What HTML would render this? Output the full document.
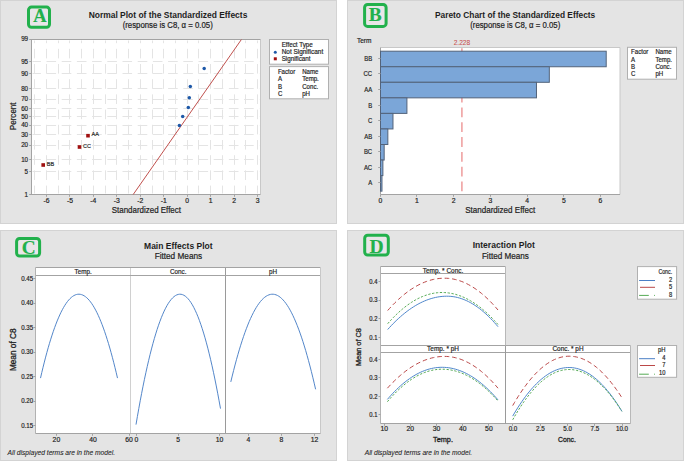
<!DOCTYPE html>
<html><head><meta charset="utf-8"><style>
html,body{margin:0;padding:0;background:#fff;}
body{width:685px;height:461px;overflow:hidden;}
svg{display:block;font-family:"Liberation Sans", sans-serif;}
</style></head><body>
<svg width="685" height="461" viewBox="0 0 685 461">
<rect x="0" y="0" width="685" height="461" fill="#ffffff"/>
<rect x="0.50" y="0.50" width="336.00" height="223.00" fill="#e4e4e4" stroke="#d3d3d3" stroke-width="1"/>
<rect x="347.50" y="0.50" width="336.00" height="223.00" fill="#e4e4e4" stroke="#d3d3d3" stroke-width="1"/>
<rect x="0.50" y="230.50" width="336.00" height="230.00" fill="#e4e4e4" stroke="#d3d3d3" stroke-width="1"/>
<rect x="347.50" y="230.50" width="336.00" height="230.00" fill="#e4e4e4" stroke="#d3d3d3" stroke-width="1"/>
<rect x="31.50" y="39.50" width="229.00" height="155.00" fill="#ffffff" stroke="none" stroke-width="1"/>
<line x1="34.50" y1="193.50" x2="34.50" y2="40.50" stroke="#e4e4e4" stroke-width="1" stroke-dasharray="9.6 5.6" stroke-dashoffset="1.7"/>
<line x1="46.50" y1="193.50" x2="46.50" y2="40.50" stroke="#e4e4e4" stroke-width="1" stroke-dasharray="9.6 5.6" stroke-dashoffset="1.7"/>
<line x1="58.50" y1="193.50" x2="58.50" y2="40.50" stroke="#e4e4e4" stroke-width="1" stroke-dasharray="9.6 5.6" stroke-dashoffset="1.7"/>
<line x1="69.50" y1="193.50" x2="69.50" y2="40.50" stroke="#e4e4e4" stroke-width="1" stroke-dasharray="9.6 5.6" stroke-dashoffset="1.7"/>
<line x1="81.50" y1="193.50" x2="81.50" y2="40.50" stroke="#e4e4e4" stroke-width="1" stroke-dasharray="9.6 5.6" stroke-dashoffset="1.7"/>
<line x1="93.50" y1="193.50" x2="93.50" y2="40.50" stroke="#e4e4e4" stroke-width="1" stroke-dasharray="9.6 5.6" stroke-dashoffset="1.7"/>
<line x1="105.50" y1="193.50" x2="105.50" y2="40.50" stroke="#e4e4e4" stroke-width="1" stroke-dasharray="9.6 5.6" stroke-dashoffset="1.7"/>
<line x1="116.50" y1="193.50" x2="116.50" y2="40.50" stroke="#e4e4e4" stroke-width="1" stroke-dasharray="9.6 5.6" stroke-dashoffset="1.7"/>
<line x1="128.50" y1="193.50" x2="128.50" y2="40.50" stroke="#e4e4e4" stroke-width="1" stroke-dasharray="9.6 5.6" stroke-dashoffset="1.7"/>
<line x1="140.50" y1="193.50" x2="140.50" y2="40.50" stroke="#e4e4e4" stroke-width="1" stroke-dasharray="9.6 5.6" stroke-dashoffset="1.7"/>
<line x1="152.50" y1="193.50" x2="152.50" y2="40.50" stroke="#e4e4e4" stroke-width="1" stroke-dasharray="9.6 5.6" stroke-dashoffset="1.7"/>
<line x1="163.50" y1="193.50" x2="163.50" y2="40.50" stroke="#e4e4e4" stroke-width="1" stroke-dasharray="9.6 5.6" stroke-dashoffset="1.7"/>
<line x1="175.50" y1="193.50" x2="175.50" y2="40.50" stroke="#e4e4e4" stroke-width="1" stroke-dasharray="9.6 5.6" stroke-dashoffset="1.7"/>
<line x1="187.50" y1="193.50" x2="187.50" y2="40.50" stroke="#e4e4e4" stroke-width="1" stroke-dasharray="9.6 5.6" stroke-dashoffset="1.7"/>
<line x1="198.50" y1="193.50" x2="198.50" y2="40.50" stroke="#e4e4e4" stroke-width="1" stroke-dasharray="9.6 5.6" stroke-dashoffset="1.7"/>
<line x1="210.50" y1="193.50" x2="210.50" y2="40.50" stroke="#e4e4e4" stroke-width="1" stroke-dasharray="9.6 5.6" stroke-dashoffset="1.7"/>
<line x1="222.50" y1="193.50" x2="222.50" y2="40.50" stroke="#e4e4e4" stroke-width="1" stroke-dasharray="9.6 5.6" stroke-dashoffset="1.7"/>
<line x1="234.50" y1="193.50" x2="234.50" y2="40.50" stroke="#e4e4e4" stroke-width="1" stroke-dasharray="9.6 5.6" stroke-dashoffset="1.7"/>
<line x1="245.50" y1="193.50" x2="245.50" y2="40.50" stroke="#e4e4e4" stroke-width="1" stroke-dasharray="9.6 5.6" stroke-dashoffset="1.7"/>
<line x1="257.50" y1="193.50" x2="257.50" y2="40.50" stroke="#e4e4e4" stroke-width="1" stroke-dasharray="9.6 5.6" stroke-dashoffset="1.7"/>
<line x1="32.50" y1="61.50" x2="259.50" y2="61.50" stroke="#e4e4e4" stroke-width="1" stroke-dasharray="9.6 5.6" stroke-dashoffset="1.2"/>
<line x1="32.50" y1="73.50" x2="259.50" y2="73.50" stroke="#e4e4e4" stroke-width="1" stroke-dasharray="9.6 5.6" stroke-dashoffset="1.2"/>
<line x1="32.50" y1="88.50" x2="259.50" y2="88.50" stroke="#e4e4e4" stroke-width="1" stroke-dasharray="9.6 5.6" stroke-dashoffset="1.2"/>
<line x1="32.50" y1="99.50" x2="259.50" y2="99.50" stroke="#e4e4e4" stroke-width="1" stroke-dasharray="9.6 5.6" stroke-dashoffset="1.2"/>
<line x1="32.50" y1="108.50" x2="259.50" y2="108.50" stroke="#e4e4e4" stroke-width="1" stroke-dasharray="9.6 5.6" stroke-dashoffset="1.2"/>
<line x1="32.50" y1="116.50" x2="259.50" y2="116.50" stroke="#e4e4e4" stroke-width="1" stroke-dasharray="9.6 5.6" stroke-dashoffset="1.2"/>
<line x1="32.50" y1="125.50" x2="259.50" y2="125.50" stroke="#e4e4e4" stroke-width="1" stroke-dasharray="9.6 5.6" stroke-dashoffset="1.2"/>
<line x1="32.50" y1="134.50" x2="259.50" y2="134.50" stroke="#e4e4e4" stroke-width="1" stroke-dasharray="9.6 5.6" stroke-dashoffset="1.2"/>
<line x1="32.50" y1="145.50" x2="259.50" y2="145.50" stroke="#e4e4e4" stroke-width="1" stroke-dasharray="9.6 5.6" stroke-dashoffset="1.2"/>
<line x1="32.50" y1="159.50" x2="259.50" y2="159.50" stroke="#e4e4e4" stroke-width="1" stroke-dasharray="9.6 5.6" stroke-dashoffset="1.2"/>
<line x1="32.50" y1="171.50" x2="259.50" y2="171.50" stroke="#e4e4e4" stroke-width="1" stroke-dasharray="9.6 5.6" stroke-dashoffset="1.2"/>
<line x1="260.50" y1="39.50" x2="260.50" y2="194.50" stroke="#c8c8c8" stroke-width="1"/>
<line x1="31.50" y1="39.50" x2="260.50" y2="39.50" stroke="#a3a3a3" stroke-width="1"/>
<line x1="31.50" y1="39.00" x2="31.50" y2="195.00" stroke="#a3a3a3" stroke-width="1"/>
<line x1="31.50" y1="194.50" x2="260.50" y2="194.50" stroke="#a3a3a3" stroke-width="1"/>
<line x1="46.50" y1="194.50" x2="46.50" y2="196.80" stroke="#a3a3a3" stroke-width="1"/>
<text x="46.44" y="203.00" font-size="6.8" text-anchor="middle" fill="#1e1e1e" stroke="#1e1e1e" stroke-width="0.18">-6</text>
<line x1="69.50" y1="194.50" x2="69.50" y2="196.80" stroke="#a3a3a3" stroke-width="1"/>
<text x="69.90" y="203.00" font-size="6.8" text-anchor="middle" fill="#1e1e1e" stroke="#1e1e1e" stroke-width="0.18">-5</text>
<line x1="93.50" y1="194.50" x2="93.50" y2="196.80" stroke="#a3a3a3" stroke-width="1"/>
<text x="93.36" y="203.00" font-size="6.8" text-anchor="middle" fill="#1e1e1e" stroke="#1e1e1e" stroke-width="0.18">-4</text>
<line x1="116.50" y1="194.50" x2="116.50" y2="196.80" stroke="#a3a3a3" stroke-width="1"/>
<text x="116.82" y="203.00" font-size="6.8" text-anchor="middle" fill="#1e1e1e" stroke="#1e1e1e" stroke-width="0.18">-3</text>
<line x1="140.50" y1="194.50" x2="140.50" y2="196.80" stroke="#a3a3a3" stroke-width="1"/>
<text x="140.28" y="203.00" font-size="6.8" text-anchor="middle" fill="#1e1e1e" stroke="#1e1e1e" stroke-width="0.18">-2</text>
<line x1="163.50" y1="194.50" x2="163.50" y2="196.80" stroke="#a3a3a3" stroke-width="1"/>
<text x="163.74" y="203.00" font-size="6.8" text-anchor="middle" fill="#1e1e1e" stroke="#1e1e1e" stroke-width="0.18">-1</text>
<line x1="187.50" y1="194.50" x2="187.50" y2="196.80" stroke="#a3a3a3" stroke-width="1"/>
<text x="187.20" y="203.00" font-size="6.8" text-anchor="middle" fill="#1e1e1e" stroke="#1e1e1e" stroke-width="0.18">0</text>
<line x1="210.50" y1="194.50" x2="210.50" y2="196.80" stroke="#a3a3a3" stroke-width="1"/>
<text x="210.66" y="203.00" font-size="6.8" text-anchor="middle" fill="#1e1e1e" stroke="#1e1e1e" stroke-width="0.18">1</text>
<line x1="234.50" y1="194.50" x2="234.50" y2="196.80" stroke="#a3a3a3" stroke-width="1"/>
<text x="234.12" y="203.00" font-size="6.8" text-anchor="middle" fill="#1e1e1e" stroke="#1e1e1e" stroke-width="0.18">2</text>
<line x1="257.50" y1="194.50" x2="257.50" y2="196.80" stroke="#a3a3a3" stroke-width="1"/>
<text x="257.58" y="203.00" font-size="6.8" text-anchor="middle" fill="#1e1e1e" stroke="#1e1e1e" stroke-width="0.18">3</text>
<line x1="29.20" y1="39.50" x2="31.50" y2="39.50" stroke="#a3a3a3" stroke-width="1"/>
<text x="28.10" y="41.47" font-size="6.6" text-anchor="end" textLength="6.97" lengthAdjust="spacingAndGlyphs" fill="#1e1e1e" stroke="#1e1e1e" stroke-width="0.18">99</text>
<line x1="29.20" y1="61.50" x2="31.50" y2="61.50" stroke="#a3a3a3" stroke-width="1"/>
<text x="28.10" y="63.90" font-size="6.6" text-anchor="end" textLength="6.97" lengthAdjust="spacingAndGlyphs" fill="#1e1e1e" stroke="#1e1e1e" stroke-width="0.18">95</text>
<line x1="29.20" y1="73.50" x2="31.50" y2="73.50" stroke="#a3a3a3" stroke-width="1"/>
<text x="28.10" y="76.07" font-size="6.6" text-anchor="end" textLength="6.97" lengthAdjust="spacingAndGlyphs" fill="#1e1e1e" stroke="#1e1e1e" stroke-width="0.18">90</text>
<line x1="29.20" y1="88.50" x2="31.50" y2="88.50" stroke="#a3a3a3" stroke-width="1"/>
<text x="28.10" y="90.81" font-size="6.6" text-anchor="end" textLength="6.97" lengthAdjust="spacingAndGlyphs" fill="#1e1e1e" stroke="#1e1e1e" stroke-width="0.18">80</text>
<line x1="29.20" y1="99.50" x2="31.50" y2="99.50" stroke="#a3a3a3" stroke-width="1"/>
<text x="28.10" y="101.43" font-size="6.6" text-anchor="end" textLength="6.97" lengthAdjust="spacingAndGlyphs" fill="#1e1e1e" stroke="#1e1e1e" stroke-width="0.18">70</text>
<line x1="29.20" y1="108.50" x2="31.50" y2="108.50" stroke="#a3a3a3" stroke-width="1"/>
<text x="28.10" y="110.51" font-size="6.6" text-anchor="end" textLength="6.97" lengthAdjust="spacingAndGlyphs" fill="#1e1e1e" stroke="#1e1e1e" stroke-width="0.18">60</text>
<line x1="29.20" y1="116.50" x2="31.50" y2="116.50" stroke="#a3a3a3" stroke-width="1"/>
<text x="28.10" y="119.00" font-size="6.6" text-anchor="end" textLength="6.97" lengthAdjust="spacingAndGlyphs" fill="#1e1e1e" stroke="#1e1e1e" stroke-width="0.18">50</text>
<line x1="29.20" y1="125.50" x2="31.50" y2="125.50" stroke="#a3a3a3" stroke-width="1"/>
<text x="28.10" y="127.49" font-size="6.6" text-anchor="end" textLength="6.97" lengthAdjust="spacingAndGlyphs" fill="#1e1e1e" stroke="#1e1e1e" stroke-width="0.18">40</text>
<line x1="29.20" y1="134.50" x2="31.50" y2="134.50" stroke="#a3a3a3" stroke-width="1"/>
<text x="28.10" y="136.57" font-size="6.6" text-anchor="end" textLength="6.97" lengthAdjust="spacingAndGlyphs" fill="#1e1e1e" stroke="#1e1e1e" stroke-width="0.18">30</text>
<line x1="29.20" y1="145.50" x2="31.50" y2="145.50" stroke="#a3a3a3" stroke-width="1"/>
<text x="28.10" y="147.19" font-size="6.6" text-anchor="end" textLength="6.97" lengthAdjust="spacingAndGlyphs" fill="#1e1e1e" stroke="#1e1e1e" stroke-width="0.18">20</text>
<line x1="29.20" y1="159.50" x2="31.50" y2="159.50" stroke="#a3a3a3" stroke-width="1"/>
<text x="28.10" y="161.93" font-size="6.6" text-anchor="end" textLength="6.97" lengthAdjust="spacingAndGlyphs" fill="#1e1e1e" stroke="#1e1e1e" stroke-width="0.18">10</text>
<line x1="29.20" y1="171.50" x2="31.50" y2="171.50" stroke="#a3a3a3" stroke-width="1"/>
<text x="28.10" y="174.10" font-size="6.6" text-anchor="end" textLength="3.49" lengthAdjust="spacingAndGlyphs" fill="#1e1e1e" stroke="#1e1e1e" stroke-width="0.18">5</text>
<line x1="29.20" y1="194.50" x2="31.50" y2="194.50" stroke="#a3a3a3" stroke-width="1"/>
<text x="28.10" y="196.93" font-size="6.6" text-anchor="end" textLength="3.49" lengthAdjust="spacingAndGlyphs" fill="#1e1e1e" stroke="#1e1e1e" stroke-width="0.18">1</text>
<line x1="133.20" y1="194.50" x2="241.40" y2="39.50" stroke="#c0504d" stroke-width="1"/>
<circle cx="204.2" cy="68.4" r="1.75" fill="#1d58a8"/>
<circle cx="190.3" cy="86.4" r="1.75" fill="#1d58a8"/>
<circle cx="189.3" cy="97.7" r="1.75" fill="#1d58a8"/>
<circle cx="188.3" cy="107.5" r="1.75" fill="#1d58a8"/>
<circle cx="182.7" cy="116.4" r="1.75" fill="#1d58a8"/>
<circle cx="179.4" cy="125.6" r="1.75" fill="#1d58a8"/>
<rect x="41.40" y="163.20" width="3.60" height="3.60" fill="#a01010" stroke="none" stroke-width="1"/>
<text x="46.80" y="165.70" font-size="6.0" textLength="7.36" lengthAdjust="spacingAndGlyphs" fill="#1e1e1e" stroke="#1e1e1e" stroke-width="0.18">BB</text>
<rect x="77.70" y="145.20" width="3.60" height="3.60" fill="#a01010" stroke="none" stroke-width="1"/>
<text x="83.10" y="147.70" font-size="6.0" textLength="7.97" lengthAdjust="spacingAndGlyphs" fill="#1e1e1e" stroke="#1e1e1e" stroke-width="0.18">CC</text>
<rect x="86.20" y="133.90" width="3.60" height="3.60" fill="#a01010" stroke="none" stroke-width="1"/>
<text x="91.60" y="136.40" font-size="6.0" textLength="7.36" lengthAdjust="spacingAndGlyphs" fill="#1e1e1e" stroke="#1e1e1e" stroke-width="0.18">AA</text>
<text x="168.00" y="18.20" font-size="8.2" text-anchor="middle" font-weight="bold" textLength="158.7" lengthAdjust="spacingAndGlyphs" fill="#1e1e1e">Normal Plot of the Standardized Effects</text>
<text x="167.70" y="28.30" font-size="8.3" text-anchor="middle" textLength="90.1" lengthAdjust="spacingAndGlyphs" fill="#1e1e1e" stroke="#1e1e1e" stroke-width="0.2">(response is C8, α = 0.05)</text>
<text x="146.35" y="212.80" font-size="8.2" text-anchor="middle" textLength="69.3" lengthAdjust="spacingAndGlyphs" fill="#1e1e1e" stroke="#1e1e1e" stroke-width="0.2">Standardized Effect</text>
<text transform="translate(15.90,116.30) rotate(-90)" x="0" y="0" font-size="8.2" text-anchor="middle" textLength="27.7" lengthAdjust="spacingAndGlyphs" fill="#1e1e1e" stroke="#1e1e1e" stroke-width="0.22">Percent</text>
<rect x="269.50" y="39.50" width="59.00" height="24.70" fill="#ffffff" stroke="#b0b0b0" stroke-width="1"/>
<text x="281.70" y="46.70" font-size="6.3" textLength="31.1" lengthAdjust="spacingAndGlyphs" fill="#1e1e1e" stroke="#1e1e1e" stroke-width="0.18">Effect Type</text>
<text x="281.70" y="54.00" font-size="6.3" textLength="41.5" lengthAdjust="spacingAndGlyphs" fill="#1e1e1e" stroke="#1e1e1e" stroke-width="0.18">Not Significant</text>
<text x="281.70" y="60.80" font-size="6.3" textLength="28.8" lengthAdjust="spacingAndGlyphs" fill="#1e1e1e" stroke="#1e1e1e" stroke-width="0.18">Significant</text>
<circle cx="275.3" cy="52.2" r="1.5" fill="#1d58a8"/>
<rect x="273.80" y="57.30" width="3.00" height="3.00" fill="#a01010" stroke="none" stroke-width="1"/>
<rect x="269.50" y="66.60" width="59.00" height="32.20" fill="#ffffff" stroke="#b0b0b0" stroke-width="1"/>
<text x="277.90" y="73.60" font-size="6.3" textLength="17.32" lengthAdjust="spacingAndGlyphs" fill="#1e1e1e" stroke="#1e1e1e" stroke-width="0.18">Factor</text>
<text x="302.20" y="73.60" font-size="6.3" textLength="16.3" lengthAdjust="spacingAndGlyphs" fill="#1e1e1e" stroke="#1e1e1e" stroke-width="0.18">Name</text>
<text x="277.90" y="81.20" font-size="6.3" textLength="4.08" lengthAdjust="spacingAndGlyphs" fill="#1e1e1e" stroke="#1e1e1e" stroke-width="0.18">A</text>
<text x="302.20" y="81.20" font-size="6.3" textLength="16.64" lengthAdjust="spacingAndGlyphs" fill="#1e1e1e" stroke="#1e1e1e" stroke-width="0.18">Temp.</text>
<text x="277.90" y="88.80" font-size="6.3" textLength="4.08" lengthAdjust="spacingAndGlyphs" fill="#1e1e1e" stroke="#1e1e1e" stroke-width="0.18">B</text>
<text x="302.20" y="88.80" font-size="6.3" textLength="15.96" lengthAdjust="spacingAndGlyphs" fill="#1e1e1e" stroke="#1e1e1e" stroke-width="0.18">Conc.</text>
<text x="277.90" y="95.70" font-size="6.3" textLength="4.41" lengthAdjust="spacingAndGlyphs" fill="#1e1e1e" stroke="#1e1e1e" stroke-width="0.18">C</text>
<text x="302.20" y="95.70" font-size="6.3" textLength="7.81" lengthAdjust="spacingAndGlyphs" fill="#1e1e1e" stroke="#1e1e1e" stroke-width="0.18">pH</text>
<rect x="28.50" y="7.10" width="21.00" height="20.10" rx="3" ry="3" fill="#e8e6e8" stroke="#22b14c" stroke-width="3"/>
<text x="39.90" y="21.90" font-family="Liberation Serif, serif" font-weight="bold" font-size="18.4" text-anchor="middle" fill="#22b14c" stroke="#22b14c" stroke-width="0.15">A</text>
<rect x="380.50" y="47.50" width="239.50" height="147.00" fill="#ffffff" stroke="none" stroke-width="1"/>
<line x1="620.00" y1="47.50" x2="620.00" y2="194.50" stroke="#c8c8c8" stroke-width="1"/>
<line x1="380.50" y1="47.50" x2="620.00" y2="47.50" stroke="#c8c8c8" stroke-width="1"/>
<line x1="380.50" y1="47.50" x2="380.50" y2="194.50" stroke="#a3a3a3" stroke-width="1"/>
<line x1="461.90" y1="47.50" x2="461.90" y2="194.50" stroke="#ee9c9c" stroke-width="1.5" stroke-dasharray="9.8 5" stroke-dashoffset="-0.8"/>
<rect x="380.50" y="51.20" width="225.71" height="15.55" fill="#7ba6d8" stroke="#53637a" stroke-width="1"/>
<line x1="378.20" y1="58.50" x2="380.50" y2="58.50" stroke="#a3a3a3" stroke-width="1"/>
<text x="372.20" y="60.88" font-size="6.8" text-anchor="end" textLength="7.98" lengthAdjust="spacingAndGlyphs" fill="#1e1e1e" stroke="#1e1e1e" stroke-width="0.18">BB</text>
<rect x="380.50" y="66.75" width="168.82" height="15.55" fill="#7ba6d8" stroke="#53637a" stroke-width="1"/>
<line x1="378.20" y1="73.50" x2="380.50" y2="73.50" stroke="#a3a3a3" stroke-width="1"/>
<text x="372.20" y="76.43" font-size="6.8" text-anchor="end" textLength="8.64" lengthAdjust="spacingAndGlyphs" fill="#1e1e1e" stroke="#1e1e1e" stroke-width="0.18">CC</text>
<rect x="380.50" y="82.30" width="155.98" height="15.55" fill="#7ba6d8" stroke="#53637a" stroke-width="1"/>
<line x1="378.20" y1="89.50" x2="380.50" y2="89.50" stroke="#a3a3a3" stroke-width="1"/>
<text x="372.20" y="91.98" font-size="6.8" text-anchor="end" textLength="7.98" lengthAdjust="spacingAndGlyphs" fill="#1e1e1e" stroke="#1e1e1e" stroke-width="0.18">AA</text>
<rect x="380.50" y="97.85" width="26.42" height="15.55" fill="#7ba6d8" stroke="#53637a" stroke-width="1"/>
<line x1="378.20" y1="105.50" x2="380.50" y2="105.50" stroke="#a3a3a3" stroke-width="1"/>
<text x="372.20" y="107.53" font-size="6.8" text-anchor="end" textLength="3.99" lengthAdjust="spacingAndGlyphs" fill="#1e1e1e" stroke="#1e1e1e" stroke-width="0.18">B</text>
<rect x="380.50" y="113.40" width="12.48" height="15.55" fill="#7ba6d8" stroke="#53637a" stroke-width="1"/>
<line x1="378.20" y1="120.50" x2="380.50" y2="120.50" stroke="#a3a3a3" stroke-width="1"/>
<text x="372.20" y="123.08" font-size="6.8" text-anchor="end" textLength="4.32" lengthAdjust="spacingAndGlyphs" fill="#1e1e1e" stroke="#1e1e1e" stroke-width="0.18">C</text>
<rect x="380.50" y="128.95" width="7.34" height="15.55" fill="#7ba6d8" stroke="#53637a" stroke-width="1"/>
<line x1="378.20" y1="136.50" x2="380.50" y2="136.50" stroke="#a3a3a3" stroke-width="1"/>
<text x="372.20" y="138.62" font-size="6.8" text-anchor="end" textLength="7.98" lengthAdjust="spacingAndGlyphs" fill="#1e1e1e" stroke="#1e1e1e" stroke-width="0.18">AB</text>
<rect x="380.50" y="144.50" width="3.67" height="15.55" fill="#7ba6d8" stroke="#53637a" stroke-width="1"/>
<line x1="378.20" y1="151.50" x2="380.50" y2="151.50" stroke="#a3a3a3" stroke-width="1"/>
<text x="372.20" y="154.18" font-size="6.8" text-anchor="end" textLength="8.31" lengthAdjust="spacingAndGlyphs" fill="#1e1e1e" stroke="#1e1e1e" stroke-width="0.18">BC</text>
<rect x="380.50" y="160.05" width="2.39" height="15.55" fill="#7ba6d8" stroke="#53637a" stroke-width="1"/>
<line x1="378.20" y1="167.50" x2="380.50" y2="167.50" stroke="#a3a3a3" stroke-width="1"/>
<text x="372.20" y="169.73" font-size="6.8" text-anchor="end" textLength="8.31" lengthAdjust="spacingAndGlyphs" fill="#1e1e1e" stroke="#1e1e1e" stroke-width="0.18">AC</text>
<rect x="380.50" y="175.60" width="1.47" height="15.55" fill="#7ba6d8" stroke="#53637a" stroke-width="1"/>
<line x1="378.20" y1="182.50" x2="380.50" y2="182.50" stroke="#a3a3a3" stroke-width="1"/>
<text x="372.20" y="185.28" font-size="6.8" text-anchor="end" textLength="3.99" lengthAdjust="spacingAndGlyphs" fill="#1e1e1e" stroke="#1e1e1e" stroke-width="0.18">A</text>
<line x1="380.50" y1="194.50" x2="620.00" y2="194.50" stroke="#a3a3a3" stroke-width="1"/>
<line x1="380.50" y1="194.50" x2="380.50" y2="196.80" stroke="#a3a3a3" stroke-width="1"/>
<text x="380.30" y="203.00" font-size="6.8" text-anchor="middle" fill="#1e1e1e" stroke="#1e1e1e" stroke-width="0.18">0</text>
<line x1="416.50" y1="194.50" x2="416.50" y2="196.80" stroke="#a3a3a3" stroke-width="1"/>
<text x="417.00" y="203.00" font-size="6.8" text-anchor="middle" fill="#1e1e1e" stroke="#1e1e1e" stroke-width="0.18">1</text>
<line x1="453.50" y1="194.50" x2="453.50" y2="196.80" stroke="#a3a3a3" stroke-width="1"/>
<text x="453.70" y="203.00" font-size="6.8" text-anchor="middle" fill="#1e1e1e" stroke="#1e1e1e" stroke-width="0.18">2</text>
<line x1="490.50" y1="194.50" x2="490.50" y2="196.80" stroke="#a3a3a3" stroke-width="1"/>
<text x="490.40" y="203.00" font-size="6.8" text-anchor="middle" fill="#1e1e1e" stroke="#1e1e1e" stroke-width="0.18">3</text>
<line x1="527.50" y1="194.50" x2="527.50" y2="196.80" stroke="#a3a3a3" stroke-width="1"/>
<text x="527.10" y="203.00" font-size="6.8" text-anchor="middle" fill="#1e1e1e" stroke="#1e1e1e" stroke-width="0.18">4</text>
<line x1="563.50" y1="194.50" x2="563.50" y2="196.80" stroke="#a3a3a3" stroke-width="1"/>
<text x="563.80" y="203.00" font-size="6.8" text-anchor="middle" fill="#1e1e1e" stroke="#1e1e1e" stroke-width="0.18">5</text>
<line x1="600.50" y1="194.50" x2="600.50" y2="196.80" stroke="#a3a3a3" stroke-width="1"/>
<text x="600.50" y="203.00" font-size="6.8" text-anchor="middle" fill="#1e1e1e" stroke="#1e1e1e" stroke-width="0.18">6</text>
<text x="461.90" y="44.80" font-size="6.5" text-anchor="middle" textLength="16.5" lengthAdjust="spacingAndGlyphs" fill="#c85050" stroke="#c85050" stroke-width="0.05">2.228</text>
<text x="364.20" y="43.00" font-size="6.5" text-anchor="middle" textLength="14.5" lengthAdjust="spacingAndGlyphs" fill="#1e1e1e" stroke="#1e1e1e" stroke-width="0.18">Term</text>
<text x="500.20" y="212.80" font-size="8.2" text-anchor="middle" textLength="70" lengthAdjust="spacingAndGlyphs" fill="#1e1e1e" stroke="#1e1e1e" stroke-width="0.2">Standardized Effect</text>
<text x="515.10" y="18.20" font-size="8.2" text-anchor="middle" font-weight="bold" textLength="160.3" lengthAdjust="spacingAndGlyphs" fill="#1e1e1e">Pareto Chart of the Standardized Effects</text>
<text x="515.25" y="28.30" font-size="8.3" text-anchor="middle" textLength="90.1" lengthAdjust="spacingAndGlyphs" fill="#1e1e1e" stroke="#1e1e1e" stroke-width="0.2">(response is C8, α = 0.05)</text>
<rect x="627.50" y="47.30" width="49.00" height="31.90" fill="#ffffff" stroke="#b0b0b0" stroke-width="1"/>
<text x="631.00" y="53.90" font-size="6.3" textLength="17.32" lengthAdjust="spacingAndGlyphs" fill="#1e1e1e" stroke="#1e1e1e" stroke-width="0.18">Factor</text>
<text x="655.40" y="53.90" font-size="6.3" textLength="16.3" lengthAdjust="spacingAndGlyphs" fill="#1e1e1e" stroke="#1e1e1e" stroke-width="0.18">Name</text>
<text x="631.00" y="61.60" font-size="6.3" textLength="4.08" lengthAdjust="spacingAndGlyphs" fill="#1e1e1e" stroke="#1e1e1e" stroke-width="0.18">A</text>
<text x="655.40" y="61.60" font-size="6.3" textLength="16.64" lengthAdjust="spacingAndGlyphs" fill="#1e1e1e" stroke="#1e1e1e" stroke-width="0.18">Temp.</text>
<text x="631.00" y="68.70" font-size="6.3" textLength="4.08" lengthAdjust="spacingAndGlyphs" fill="#1e1e1e" stroke="#1e1e1e" stroke-width="0.18">B</text>
<text x="655.40" y="68.70" font-size="6.3" textLength="15.96" lengthAdjust="spacingAndGlyphs" fill="#1e1e1e" stroke="#1e1e1e" stroke-width="0.18">Conc.</text>
<text x="631.00" y="75.90" font-size="6.3" textLength="4.41" lengthAdjust="spacingAndGlyphs" fill="#1e1e1e" stroke="#1e1e1e" stroke-width="0.18">C</text>
<text x="655.40" y="75.90" font-size="6.3" textLength="7.81" lengthAdjust="spacingAndGlyphs" fill="#1e1e1e" stroke="#1e1e1e" stroke-width="0.18">pH</text>
<rect x="364.60" y="4.40" width="21.50" height="22.00" rx="3" ry="3" fill="#e8e6e8" stroke="#22b14c" stroke-width="3"/>
<text x="375.30" y="21.40" font-family="Liberation Serif, serif" font-weight="bold" font-size="19.4" text-anchor="middle" fill="#22b14c" stroke="#22b14c" stroke-width="0.15">B</text>
<rect x="35.50" y="267.50" width="285.00" height="166.00" fill="#ffffff" stroke="none" stroke-width="1"/>
<line x1="130.50" y1="267.50" x2="130.50" y2="433.50" stroke="#d0d0d0" stroke-width="1"/>
<line x1="225.50" y1="267.50" x2="225.50" y2="433.50" stroke="#9a9a9a" stroke-width="1"/>
<line x1="35.50" y1="267.50" x2="320.50" y2="267.50" stroke="#a3a3a3" stroke-width="1"/>
<line x1="35.50" y1="275.50" x2="320.50" y2="275.50" stroke="#a3a3a3" stroke-width="1"/>
<line x1="320.50" y1="267.50" x2="320.50" y2="433.50" stroke="#c8c8c8" stroke-width="1"/>
<line x1="35.50" y1="267.50" x2="35.50" y2="433.50" stroke="#b2b2b2" stroke-width="1"/>
<line x1="35.50" y1="433.50" x2="320.50" y2="433.50" stroke="#a3a3a3" stroke-width="1"/>
<text x="83.20" y="273.70" font-size="6.5" text-anchor="middle" textLength="17.17" lengthAdjust="spacingAndGlyphs" fill="#1e1e1e" stroke="#1e1e1e" stroke-width="0.18">Temp.</text>
<text x="178.20" y="273.70" font-size="6.5" text-anchor="middle" textLength="16.47" lengthAdjust="spacingAndGlyphs" fill="#1e1e1e" stroke="#1e1e1e" stroke-width="0.18">Conc.</text>
<text x="273.00" y="273.70" font-size="6.5" text-anchor="middle" textLength="8.06" lengthAdjust="spacingAndGlyphs" fill="#1e1e1e" stroke="#1e1e1e" stroke-width="0.18">pH</text>
<line x1="33.50" y1="278.50" x2="35.50" y2="278.50" stroke="#a3a3a3" stroke-width="1"/>
<text x="33.10" y="280.90" font-size="6.5" text-anchor="end" textLength="11.9" lengthAdjust="spacingAndGlyphs" fill="#1e1e1e" stroke="#1e1e1e" stroke-width="0.18">0.45</text>
<line x1="33.50" y1="303.50" x2="35.50" y2="303.50" stroke="#a3a3a3" stroke-width="1"/>
<text x="33.10" y="305.40" font-size="6.5" text-anchor="end" textLength="11.9" lengthAdjust="spacingAndGlyphs" fill="#1e1e1e" stroke="#1e1e1e" stroke-width="0.18">0.40</text>
<line x1="33.50" y1="327.50" x2="35.50" y2="327.50" stroke="#a3a3a3" stroke-width="1"/>
<text x="33.10" y="329.90" font-size="6.5" text-anchor="end" textLength="11.9" lengthAdjust="spacingAndGlyphs" fill="#1e1e1e" stroke="#1e1e1e" stroke-width="0.18">0.35</text>
<line x1="33.50" y1="352.50" x2="35.50" y2="352.50" stroke="#a3a3a3" stroke-width="1"/>
<text x="33.10" y="354.40" font-size="6.5" text-anchor="end" textLength="11.9" lengthAdjust="spacingAndGlyphs" fill="#1e1e1e" stroke="#1e1e1e" stroke-width="0.18">0.30</text>
<line x1="33.50" y1="376.50" x2="35.50" y2="376.50" stroke="#a3a3a3" stroke-width="1"/>
<text x="33.10" y="378.90" font-size="6.5" text-anchor="end" textLength="11.9" lengthAdjust="spacingAndGlyphs" fill="#1e1e1e" stroke="#1e1e1e" stroke-width="0.18">0.25</text>
<line x1="33.50" y1="401.50" x2="35.50" y2="401.50" stroke="#a3a3a3" stroke-width="1"/>
<text x="33.10" y="403.40" font-size="6.5" text-anchor="end" textLength="11.9" lengthAdjust="spacingAndGlyphs" fill="#1e1e1e" stroke="#1e1e1e" stroke-width="0.18">0.20</text>
<line x1="33.50" y1="425.50" x2="35.50" y2="425.50" stroke="#a3a3a3" stroke-width="1"/>
<text x="33.10" y="427.90" font-size="6.5" text-anchor="end" textLength="11.9" lengthAdjust="spacingAndGlyphs" fill="#1e1e1e" stroke="#1e1e1e" stroke-width="0.18">0.15</text>
<line x1="56.50" y1="433.50" x2="56.50" y2="435.80" stroke="#a3a3a3" stroke-width="1"/>
<text x="56.40" y="441.60" font-size="6.8" text-anchor="middle" fill="#1e1e1e" stroke="#1e1e1e" stroke-width="0.18">20</text>
<line x1="92.50" y1="433.50" x2="92.50" y2="435.80" stroke="#a3a3a3" stroke-width="1"/>
<text x="93.00" y="441.60" font-size="6.8" text-anchor="middle" fill="#1e1e1e" stroke="#1e1e1e" stroke-width="0.18">40</text>
<line x1="129.50" y1="433.50" x2="129.50" y2="435.80" stroke="#a3a3a3" stroke-width="1"/>
<text x="129.10" y="441.60" font-size="6.8" text-anchor="middle" fill="#1e1e1e" stroke="#1e1e1e" stroke-width="0.18">60</text>
<line x1="136.50" y1="433.50" x2="136.50" y2="435.80" stroke="#a3a3a3" stroke-width="1"/>
<text x="136.40" y="441.60" font-size="6.8" text-anchor="middle" fill="#1e1e1e" stroke="#1e1e1e" stroke-width="0.18">0</text>
<line x1="178.50" y1="433.50" x2="178.50" y2="435.80" stroke="#a3a3a3" stroke-width="1"/>
<text x="178.10" y="441.60" font-size="6.8" text-anchor="middle" fill="#1e1e1e" stroke="#1e1e1e" stroke-width="0.18">5</text>
<line x1="219.50" y1="433.50" x2="219.50" y2="435.80" stroke="#a3a3a3" stroke-width="1"/>
<text x="219.50" y="441.60" font-size="6.8" text-anchor="middle" fill="#1e1e1e" stroke="#1e1e1e" stroke-width="0.18">10</text>
<line x1="248.50" y1="433.50" x2="248.50" y2="435.80" stroke="#a3a3a3" stroke-width="1"/>
<text x="248.50" y="441.60" font-size="6.8" text-anchor="middle" fill="#1e1e1e" stroke="#1e1e1e" stroke-width="0.18">4</text>
<line x1="281.50" y1="433.50" x2="281.50" y2="435.80" stroke="#a3a3a3" stroke-width="1"/>
<text x="281.50" y="441.60" font-size="6.8" text-anchor="middle" fill="#1e1e1e" stroke="#1e1e1e" stroke-width="0.18">8</text>
<line x1="314.50" y1="433.50" x2="314.50" y2="435.80" stroke="#a3a3a3" stroke-width="1"/>
<text x="314.60" y="441.60" font-size="6.8" text-anchor="middle" fill="#1e1e1e" stroke="#1e1e1e" stroke-width="0.18">12</text>
<polyline points="40.50,378.10 41.78,372.57 43.07,367.23 44.35,362.08 45.63,357.12 46.92,352.34 48.20,347.76 49.48,343.36 50.77,339.15 52.05,335.13 53.33,331.29 54.62,327.65 55.90,324.19 57.18,320.93 58.47,317.85 59.75,314.96 61.03,312.25 62.32,309.74 63.60,307.41 64.88,305.28 66.17,303.33 67.45,301.57 68.73,300.00 70.02,298.61 71.30,297.42 72.58,296.41 73.87,295.59 75.15,294.96 76.43,294.52 77.72,294.27 79.00,294.20 80.28,294.32 81.57,294.63 82.85,295.12 84.13,295.79 85.42,296.65 86.70,297.70 87.98,298.92 89.27,300.34 90.55,301.93 91.83,303.72 93.12,305.68 94.40,307.83 95.68,310.17 96.97,312.69 98.25,315.39 99.53,318.28 100.82,321.35 102.10,324.61 103.38,328.05 104.67,331.68 105.95,335.49 107.23,339.49 108.52,343.67 109.80,348.03 111.08,352.58 112.37,357.32 113.65,362.24 114.93,367.34 116.22,372.63 117.50,378.10" fill="none" stroke="#4a7fc6" stroke-width="0.95"/>
<polyline points="136.00,424.60 137.41,416.39 138.82,408.44 140.22,400.76 141.63,393.35 143.04,386.20 144.45,379.32 145.86,372.71 147.27,366.37 148.68,360.29 150.08,354.48 151.49,348.94 152.90,343.67 154.31,338.66 155.72,333.92 157.12,329.44 158.53,325.24 159.94,321.30 161.35,317.63 162.76,314.22 164.17,311.09 165.57,308.22 166.98,305.61 168.39,303.28 169.80,301.21 171.21,299.41 172.62,297.87 174.03,296.60 175.43,295.60 176.84,294.87 178.25,294.41 179.66,294.21 181.07,294.28 182.47,294.63 183.88,295.25 185.29,296.15 186.70,297.33 188.11,298.79 189.52,300.52 190.93,302.52 192.33,304.81 193.74,307.37 195.15,310.21 196.56,313.32 197.97,316.71 199.38,320.38 200.78,324.33 202.19,328.55 203.60,333.05 205.01,337.82 206.42,342.87 207.82,348.20 209.23,353.80 210.64,359.68 212.05,365.84 213.46,372.28 214.87,378.99 216.28,385.98 217.68,393.24 219.09,400.78 220.50,408.60" fill="none" stroke="#4a7fc6" stroke-width="0.95"/>
<polyline points="230.80,381.90 232.21,376.06 233.63,370.41 235.04,364.97 236.45,359.73 237.87,354.69 239.28,349.86 240.69,345.22 242.11,340.79 243.52,336.56 244.93,332.53 246.35,328.70 247.76,325.07 249.17,321.64 250.59,318.42 252.00,315.40 253.41,312.57 254.83,309.95 256.24,307.53 257.65,305.32 259.07,303.30 260.48,301.49 261.89,299.87 263.31,298.46 264.72,297.25 266.13,296.24 267.55,295.44 268.96,294.83 270.37,294.43 271.79,294.23 273.20,294.23 274.61,294.43 276.03,294.84 277.44,295.45 278.85,296.27 280.27,297.29 281.68,298.51 283.09,299.95 284.51,301.58 285.92,303.42 287.33,305.46 288.75,307.71 290.16,310.17 291.57,312.82 292.99,315.69 294.40,318.75 295.81,322.02 297.23,325.50 298.64,329.18 300.05,333.07 301.47,337.16 302.88,341.45 304.29,345.95 305.71,350.65 307.12,355.56 308.53,360.67 309.95,365.99 311.36,371.51 312.77,377.23 314.19,383.17 315.60,389.30" fill="none" stroke="#4a7fc6" stroke-width="0.95"/>
<text x="178.30" y="248.90" font-size="8.5" text-anchor="middle" font-weight="bold" textLength="68.5" lengthAdjust="spacingAndGlyphs" fill="#1e1e1e">Main Effects Plot</text>
<text x="178.40" y="258.80" font-size="8.3" text-anchor="middle" textLength="47.5" lengthAdjust="spacingAndGlyphs" fill="#1e1e1e" stroke="#1e1e1e" stroke-width="0.2">Fitted Means</text>
<text transform="translate(15.90,349.80) rotate(-90)" x="0" y="0" font-size="8.2" text-anchor="middle" textLength="42.6" lengthAdjust="spacingAndGlyphs" fill="#1e1e1e" stroke="#1e1e1e" stroke-width="0.3">Mean of C8</text>
<text x="7.50" y="454.70" font-size="6.8" textLength="107.5" lengthAdjust="spacingAndGlyphs" font-style="italic" fill="#1e1e1e" stroke="#1e1e1e" stroke-width="0.08">All displayed terms are in the model.</text>
<rect x="16.60" y="238.40" width="23.00" height="17.60" rx="3" ry="3" fill="#e8e6e8" stroke="#22b14c" stroke-width="3"/>
<text x="28.60" y="253.80" font-family="Liberation Serif, serif" font-weight="bold" font-size="19.3" text-anchor="middle" fill="#22b14c" stroke="#22b14c" stroke-width="0.15">C</text>
<rect x="380.50" y="266.50" width="125.00" height="79.00" fill="#ffffff" stroke="none" stroke-width="1"/>
<line x1="380.50" y1="266.50" x2="505.50" y2="266.50" stroke="#a3a3a3" stroke-width="1"/>
<line x1="380.50" y1="273.50" x2="505.50" y2="273.50" stroke="#a3a3a3" stroke-width="1"/>
<line x1="505.50" y1="266.50" x2="505.50" y2="345.50" stroke="#b8b8b8" stroke-width="1"/>
<rect x="380.50" y="345.50" width="125.00" height="78.00" fill="#ffffff" stroke="none" stroke-width="1"/>
<line x1="380.50" y1="345.50" x2="505.50" y2="345.50" stroke="#a3a3a3" stroke-width="1"/>
<line x1="380.50" y1="352.50" x2="505.50" y2="352.50" stroke="#a3a3a3" stroke-width="1"/>
<line x1="505.50" y1="345.50" x2="505.50" y2="423.50" stroke="#b8b8b8" stroke-width="1"/>
<rect x="505.50" y="345.50" width="125.00" height="78.00" fill="#ffffff" stroke="none" stroke-width="1"/>
<line x1="505.50" y1="345.50" x2="630.50" y2="345.50" stroke="#a3a3a3" stroke-width="1"/>
<line x1="505.50" y1="352.50" x2="630.50" y2="352.50" stroke="#a3a3a3" stroke-width="1"/>
<line x1="630.50" y1="345.50" x2="630.50" y2="423.50" stroke="#b8b8b8" stroke-width="1"/>
<line x1="380.50" y1="266.50" x2="380.50" y2="423.50" stroke="#b2b2b2" stroke-width="1"/>
<line x1="380.50" y1="423.50" x2="630.50" y2="423.50" stroke="#a3a3a3" stroke-width="1"/>
<line x1="505.50" y1="345.50" x2="505.50" y2="423.50" stroke="#9a9a9a" stroke-width="1"/>
<text x="443.00" y="272.80" font-size="6.3" text-anchor="middle" textLength="40.5" lengthAdjust="spacingAndGlyphs" fill="#1e1e1e" stroke="#1e1e1e" stroke-width="0.18">Temp. * Conc.</text>
<text x="443.00" y="351.20" font-size="6.3" text-anchor="middle" textLength="31.78" lengthAdjust="spacingAndGlyphs" fill="#1e1e1e" stroke="#1e1e1e" stroke-width="0.18">Temp. * pH</text>
<text x="568.00" y="351.20" font-size="6.3" text-anchor="middle" textLength="31.07" lengthAdjust="spacingAndGlyphs" fill="#1e1e1e" stroke="#1e1e1e" stroke-width="0.18">Conc. * pH</text>
<line x1="378.50" y1="281.50" x2="380.50" y2="281.50" stroke="#a3a3a3" stroke-width="1"/>
<text x="377.50" y="283.55" font-size="6.5" text-anchor="end" textLength="8.13" lengthAdjust="spacingAndGlyphs" fill="#1e1e1e" stroke="#1e1e1e" stroke-width="0.18">0.4</text>
<line x1="378.50" y1="300.50" x2="380.50" y2="300.50" stroke="#a3a3a3" stroke-width="1"/>
<text x="377.50" y="302.30" font-size="6.5" text-anchor="end" textLength="8.13" lengthAdjust="spacingAndGlyphs" fill="#1e1e1e" stroke="#1e1e1e" stroke-width="0.18">0.3</text>
<line x1="378.50" y1="318.50" x2="380.50" y2="318.50" stroke="#a3a3a3" stroke-width="1"/>
<text x="377.50" y="320.90" font-size="6.5" text-anchor="end" textLength="8.13" lengthAdjust="spacingAndGlyphs" fill="#1e1e1e" stroke="#1e1e1e" stroke-width="0.18">0.2</text>
<line x1="378.50" y1="337.50" x2="380.50" y2="337.50" stroke="#a3a3a3" stroke-width="1"/>
<text x="377.50" y="339.50" font-size="6.5" text-anchor="end" textLength="8.13" lengthAdjust="spacingAndGlyphs" fill="#1e1e1e" stroke="#1e1e1e" stroke-width="0.18">0.1</text>
<line x1="378.50" y1="359.50" x2="380.50" y2="359.50" stroke="#a3a3a3" stroke-width="1"/>
<text x="377.50" y="361.50" font-size="6.5" text-anchor="end" textLength="8.13" lengthAdjust="spacingAndGlyphs" fill="#1e1e1e" stroke="#1e1e1e" stroke-width="0.18">0.4</text>
<line x1="378.50" y1="377.50" x2="380.50" y2="377.50" stroke="#a3a3a3" stroke-width="1"/>
<text x="377.50" y="380.10" font-size="6.5" text-anchor="end" textLength="8.13" lengthAdjust="spacingAndGlyphs" fill="#1e1e1e" stroke="#1e1e1e" stroke-width="0.18">0.3</text>
<line x1="378.50" y1="396.50" x2="380.50" y2="396.50" stroke="#a3a3a3" stroke-width="1"/>
<text x="377.50" y="398.70" font-size="6.5" text-anchor="end" textLength="8.13" lengthAdjust="spacingAndGlyphs" fill="#1e1e1e" stroke="#1e1e1e" stroke-width="0.18">0.2</text>
<line x1="378.50" y1="414.50" x2="380.50" y2="414.50" stroke="#a3a3a3" stroke-width="1"/>
<text x="377.50" y="417.30" font-size="6.5" text-anchor="end" textLength="8.13" lengthAdjust="spacingAndGlyphs" fill="#1e1e1e" stroke="#1e1e1e" stroke-width="0.18">0.1</text>
<line x1="384.50" y1="423.50" x2="384.50" y2="425.80" stroke="#a3a3a3" stroke-width="1"/>
<text x="384.20" y="431.10" font-size="6.8" text-anchor="middle" fill="#1e1e1e" stroke="#1e1e1e" stroke-width="0.18">10</text>
<line x1="410.50" y1="423.50" x2="410.50" y2="425.80" stroke="#a3a3a3" stroke-width="1"/>
<text x="410.30" y="431.10" font-size="6.8" text-anchor="middle" fill="#1e1e1e" stroke="#1e1e1e" stroke-width="0.18">20</text>
<line x1="436.50" y1="423.50" x2="436.50" y2="425.80" stroke="#a3a3a3" stroke-width="1"/>
<text x="436.60" y="431.10" font-size="6.8" text-anchor="middle" fill="#1e1e1e" stroke="#1e1e1e" stroke-width="0.18">30</text>
<line x1="462.50" y1="423.50" x2="462.50" y2="425.80" stroke="#a3a3a3" stroke-width="1"/>
<text x="462.80" y="431.10" font-size="6.8" text-anchor="middle" fill="#1e1e1e" stroke="#1e1e1e" stroke-width="0.18">40</text>
<line x1="488.50" y1="423.50" x2="488.50" y2="425.80" stroke="#a3a3a3" stroke-width="1"/>
<text x="488.90" y="431.10" font-size="6.8" text-anchor="middle" fill="#1e1e1e" stroke="#1e1e1e" stroke-width="0.18">50</text>
<line x1="512.50" y1="423.50" x2="512.50" y2="425.80" stroke="#a3a3a3" stroke-width="1"/>
<text x="513.00" y="431.10" font-size="6.8" text-anchor="middle" textLength="8.7" lengthAdjust="spacingAndGlyphs" fill="#1e1e1e" stroke="#1e1e1e" stroke-width="0.18">0.0</text>
<line x1="540.50" y1="423.50" x2="540.50" y2="425.80" stroke="#a3a3a3" stroke-width="1"/>
<text x="540.30" y="431.10" font-size="6.8" text-anchor="middle" textLength="8.7" lengthAdjust="spacingAndGlyphs" fill="#1e1e1e" stroke="#1e1e1e" stroke-width="0.18">2.5</text>
<line x1="567.50" y1="423.50" x2="567.50" y2="425.80" stroke="#a3a3a3" stroke-width="1"/>
<text x="567.60" y="431.10" font-size="6.8" text-anchor="middle" textLength="8.7" lengthAdjust="spacingAndGlyphs" fill="#1e1e1e" stroke="#1e1e1e" stroke-width="0.18">5.0</text>
<line x1="594.50" y1="423.50" x2="594.50" y2="425.80" stroke="#a3a3a3" stroke-width="1"/>
<text x="594.80" y="431.10" font-size="6.8" text-anchor="middle" textLength="8.7" lengthAdjust="spacingAndGlyphs" fill="#1e1e1e" stroke="#1e1e1e" stroke-width="0.18">7.5</text>
<line x1="622.50" y1="423.50" x2="622.50" y2="425.80" stroke="#a3a3a3" stroke-width="1"/>
<text x="622.00" y="431.10" font-size="6.8" text-anchor="middle" textLength="12.17" lengthAdjust="spacingAndGlyphs" fill="#1e1e1e" stroke="#1e1e1e" stroke-width="0.18">10.0</text>
<polyline points="387.70,329.50 389.54,327.47 391.38,325.50 393.21,323.59 395.05,321.75 396.89,319.98 398.73,318.26 400.57,316.62 402.41,315.03 404.25,313.51 406.08,312.05 407.92,310.66 409.76,309.33 411.60,308.07 413.44,306.87 415.27,305.73 417.11,304.66 418.95,303.65 420.79,302.71 422.63,301.82 424.47,301.01 426.31,300.26 428.14,299.57 429.98,298.94 431.82,298.38 433.66,297.89 435.50,297.45 437.33,297.08 439.17,296.78 441.01,296.54 442.85,296.36 444.69,296.25 446.53,296.20 448.37,296.22 450.20,296.32 452.04,296.50 453.88,296.76 455.72,297.09 457.56,297.51 459.39,298.00 461.23,298.58 463.07,299.23 464.91,299.96 466.75,300.77 468.59,301.66 470.43,302.63 472.26,303.68 474.10,304.81 475.94,306.02 477.78,307.31 479.62,308.67 481.45,310.12 483.29,311.65 485.13,313.25 486.97,314.93 488.81,316.70 490.65,318.54 492.49,320.46 494.32,322.46 496.16,324.54 498.00,326.70" fill="none" stroke="#5088cc" stroke-width="1"/>
<polyline points="387.70,310.50 389.54,308.44 391.38,306.45 393.21,304.53 395.05,302.68 396.89,300.89 398.73,299.17 400.57,297.52 402.41,295.94 404.25,294.42 406.08,292.98 407.92,291.60 409.76,290.28 411.60,289.04 413.44,287.86 415.27,286.75 417.11,285.71 418.95,284.73 420.79,283.83 422.63,282.99 424.47,282.22 426.31,281.51 428.14,280.88 429.98,280.31 431.82,279.81 433.66,279.38 435.50,279.01 437.33,278.71 439.17,278.48 441.01,278.32 442.85,278.23 444.69,278.20 446.53,278.25 448.37,278.37 450.20,278.56 452.04,278.83 453.88,279.18 455.72,279.60 457.56,280.09 459.39,280.66 461.23,281.31 463.07,282.03 464.91,282.83 466.75,283.70 468.59,284.65 470.43,285.67 472.26,286.76 474.10,287.94 475.94,289.18 477.78,290.50 479.62,291.90 481.45,293.37 483.29,294.92 485.13,296.54 486.97,298.24 488.81,300.01 490.65,301.86 492.49,303.78 494.32,305.78 496.16,307.85 498.00,310.00" fill="none" stroke="#bb4848" stroke-width="1" stroke-dasharray="4.6 2.9"/>
<polyline points="387.70,323.70 389.54,321.62 391.38,319.62 393.21,317.68 395.05,315.82 396.89,314.03 398.73,312.31 400.57,310.66 402.41,309.09 404.25,307.58 406.08,306.15 407.92,304.79 409.76,303.50 411.60,302.28 413.44,301.13 415.27,300.06 417.11,299.05 418.95,298.12 420.79,297.26 422.63,296.47 424.47,295.75 426.31,295.11 428.14,294.53 429.98,294.03 431.82,293.60 433.66,293.24 435.50,292.95 437.33,292.73 439.17,292.58 441.01,292.51 442.85,292.51 444.69,292.57 446.53,292.71 448.37,292.91 450.20,293.19 452.04,293.53 453.88,293.94 455.72,294.42 457.56,294.97 459.39,295.59 461.23,296.27 463.07,297.03 464.91,297.86 466.75,298.75 468.59,299.71 470.43,300.74 472.26,301.85 474.10,303.02 475.94,304.25 477.78,305.56 479.62,306.94 481.45,308.38 483.29,309.90 485.13,311.48 486.97,313.14 488.81,314.86 490.65,316.65 492.49,318.51 494.32,320.44 496.16,322.43 498.00,324.50" fill="none" stroke="#55aa55" stroke-width="1" stroke-dasharray="2.3 1.6"/>
<polyline points="387.40,399.40 389.24,397.27 391.09,395.21 392.93,393.23 394.77,391.32 396.62,389.48 398.46,387.71 400.30,386.02 402.15,384.40 403.99,382.86 405.83,381.38 407.68,379.99 409.52,378.66 411.36,377.41 413.21,376.23 415.05,375.12 416.89,374.09 418.74,373.13 420.58,372.24 422.42,371.43 424.27,370.69 426.11,370.02 427.95,369.42 429.80,368.90 431.64,368.46 433.48,368.08 435.33,367.78 437.17,367.55 439.01,367.40 440.86,367.31 442.70,367.31 444.54,367.37 446.39,367.50 448.23,367.70 450.07,367.98 451.92,368.32 453.76,368.74 455.60,369.22 457.45,369.78 459.29,370.41 461.13,371.11 462.98,371.87 464.82,372.71 466.66,373.62 468.51,374.60 470.35,375.66 472.19,376.78 474.04,377.97 475.88,379.23 477.72,380.57 479.57,381.97 481.41,383.45 483.25,384.99 485.10,386.61 486.94,388.29 488.78,390.05 490.63,391.88 492.47,393.78 494.31,395.75 496.16,397.79 498.00,399.90" fill="none" stroke="#5088cc" stroke-width="1"/>
<polyline points="387.40,388.20 389.24,386.18 391.09,384.23 392.93,382.35 394.77,380.53 396.62,378.78 398.46,377.09 400.30,375.47 402.15,373.92 403.99,372.43 405.83,371.01 407.68,369.65 409.52,368.36 411.36,367.14 413.21,365.98 415.05,364.89 416.89,363.86 418.74,362.90 420.58,362.01 422.42,361.18 424.27,360.42 426.11,359.72 427.95,359.09 429.80,358.53 431.64,358.03 433.48,357.60 435.33,357.24 437.17,356.94 439.01,356.70 440.86,356.54 442.70,356.44 444.54,356.40 446.39,356.44 448.23,356.55 450.07,356.73 451.92,357.00 453.76,357.34 455.60,357.75 457.45,358.24 459.29,358.81 461.13,359.45 462.98,360.17 464.82,360.96 466.66,361.83 468.51,362.77 470.35,363.79 472.19,364.89 474.04,366.06 475.88,367.31 477.72,368.64 479.57,370.03 481.41,371.51 483.25,373.06 485.10,374.69 486.94,376.39 488.78,378.17 490.63,380.02 492.47,381.95 494.31,383.96 496.16,386.04 498.00,388.20" fill="none" stroke="#bb4848" stroke-width="1" stroke-dasharray="4.6 2.9"/>
<polyline points="387.40,401.70 389.24,399.54 391.09,397.46 392.93,395.45 394.77,393.51 396.62,391.65 398.46,389.87 400.30,388.15 402.15,386.52 403.99,384.95 405.83,383.46 407.68,382.04 409.52,380.70 411.36,379.43 413.21,378.24 415.05,377.12 416.89,376.07 418.74,375.10 420.58,374.20 422.42,373.38 424.27,372.63 426.11,371.95 427.95,371.35 429.80,370.82 431.64,370.37 433.48,369.99 435.33,369.69 437.17,369.45 439.01,369.30 440.86,369.21 442.70,369.20 444.54,369.27 446.39,369.40 448.23,369.59 450.07,369.86 451.92,370.20 453.76,370.60 455.60,371.08 457.45,371.62 459.29,372.23 461.13,372.91 462.98,373.66 464.82,374.48 466.66,375.37 468.51,376.32 470.35,377.35 472.19,378.44 474.04,379.61 475.88,380.84 477.72,382.14 479.57,383.51 481.41,384.95 483.25,386.46 485.10,388.03 486.94,389.68 488.78,391.39 490.63,393.18 492.47,395.03 494.31,396.95 496.16,398.94 498.00,401.00" fill="none" stroke="#55aa55" stroke-width="1" stroke-dasharray="2.3 1.6"/>
<polyline points="512.70,416.10 514.52,413.01 516.34,410.02 518.16,407.13 519.98,404.34 521.80,401.66 523.62,399.08 525.44,396.59 527.26,394.21 529.08,391.93 530.90,389.76 532.72,387.68 534.54,385.71 536.36,383.84 538.18,382.06 540.00,380.39 541.82,378.83 543.64,377.36 545.46,376.00 547.28,374.73 549.10,373.57 550.92,372.51 552.74,371.55 554.56,370.70 556.38,369.94 558.20,369.29 560.02,368.74 561.84,368.29 563.66,367.94 565.48,367.69 567.30,367.54 569.12,367.50 570.94,367.56 572.76,367.72 574.58,367.99 576.40,368.36 578.22,368.83 580.04,369.41 581.86,370.09 583.68,370.87 585.50,371.76 587.32,372.75 589.14,373.85 590.96,375.05 592.78,376.35 594.60,377.76 596.42,379.27 598.24,380.88 600.06,382.60 601.88,384.42 603.70,386.35 605.52,388.37 607.34,390.51 609.16,392.74 610.98,395.08 612.80,397.53 614.62,400.07 616.44,402.73 618.26,405.48 620.08,408.34 621.90,411.30" fill="none" stroke="#5088cc" stroke-width="1"/>
<polyline points="512.70,405.60 514.52,402.47 516.34,399.44 518.16,396.51 519.98,393.69 521.80,390.97 523.62,388.35 525.44,385.83 527.26,383.42 529.08,381.11 530.90,378.90 532.72,376.79 534.54,374.79 536.36,372.89 538.18,371.09 540.00,369.39 541.82,367.80 543.64,366.31 545.46,364.92 547.28,363.64 549.10,362.45 550.92,361.37 552.74,360.39 554.56,359.52 556.38,358.74 558.20,358.07 560.02,357.50 561.84,357.04 563.66,356.67 565.48,356.41 567.30,356.26 569.12,356.20 570.94,356.25 572.76,356.39 574.58,356.63 576.40,356.97 578.22,357.42 580.04,357.96 581.86,358.59 583.68,359.33 585.50,360.17 587.32,361.11 589.14,362.14 590.96,363.28 592.78,364.51 594.60,365.84 596.42,367.27 598.24,368.80 600.06,370.43 601.88,372.16 603.70,373.99 605.52,375.91 607.34,377.94 609.16,380.06 610.98,382.28 612.80,384.61 614.62,387.03 616.44,389.55 618.26,392.17 620.08,394.88 621.90,397.70" fill="none" stroke="#bb4848" stroke-width="1" stroke-dasharray="4.6 2.9"/>
<polyline points="512.70,419.80 514.52,416.60 516.34,413.51 518.16,410.52 519.98,407.63 521.80,404.85 523.62,402.18 525.44,399.61 527.26,397.15 529.08,394.79 530.90,392.54 532.72,390.39 534.54,388.34 536.36,386.41 538.18,384.57 540.00,382.85 541.82,381.22 543.64,379.71 545.46,378.29 547.28,376.99 549.10,375.78 550.92,374.69 552.74,373.70 554.56,372.81 556.38,372.03 558.20,371.35 560.02,370.78 561.84,370.31 563.66,369.95 565.48,369.70 567.30,369.55 569.12,369.50 570.94,369.56 572.76,369.71 574.58,369.97 576.40,370.32 578.22,370.77 580.04,371.32 581.86,371.97 583.68,372.72 585.50,373.57 587.32,374.51 589.14,375.56 590.96,376.70 592.78,377.95 594.60,379.29 596.42,380.73 598.24,382.27 600.06,383.91 601.88,385.65 603.70,387.49 605.52,389.42 607.34,391.46 609.16,393.59 610.98,395.82 612.80,398.16 614.62,400.59 616.44,403.12 618.26,405.75 620.08,408.47 621.90,411.30" fill="none" stroke="#55aa55" stroke-width="1" stroke-dasharray="2.3 1.6"/>
<text x="503.80" y="248.40" font-size="8.5" text-anchor="middle" font-weight="bold" textLength="62.3" lengthAdjust="spacingAndGlyphs" fill="#1e1e1e">Interaction Plot</text>
<text x="505.40" y="258.60" font-size="8.3" text-anchor="middle" textLength="47" lengthAdjust="spacingAndGlyphs" fill="#1e1e1e" stroke="#1e1e1e" stroke-width="0.2">Fitted Means</text>
<text x="443.00" y="442.00" font-size="7.8" text-anchor="middle" textLength="19.9" lengthAdjust="spacingAndGlyphs" fill="#1e1e1e" stroke="#1e1e1e" stroke-width="0.32">Temp.</text>
<text x="567.00" y="442.00" font-size="7.8" text-anchor="middle" textLength="17.9" lengthAdjust="spacingAndGlyphs" fill="#1e1e1e" stroke="#1e1e1e" stroke-width="0.32">Conc.</text>
<text transform="translate(360.50,347.10) rotate(-90)" x="0" y="0" font-size="7.6" text-anchor="middle" textLength="37.8" lengthAdjust="spacingAndGlyphs" fill="#1e1e1e" stroke="#1e1e1e" stroke-width="0.3">Mean of C8</text>
<text x="364.70" y="454.70" font-size="6.8" textLength="107.3" lengthAdjust="spacingAndGlyphs" font-style="italic" fill="#1e1e1e" stroke="#1e1e1e" stroke-width="0.08">All displayed terms are in the model.</text>
<rect x="637.50" y="266.60" width="39.10" height="32.60" fill="#ffffff" stroke="#b0b0b0" stroke-width="1"/>
<text x="672.10" y="273.80" font-size="6.3" text-anchor="end" textLength="13.7" lengthAdjust="spacingAndGlyphs" fill="#1e1e1e" stroke="#1e1e1e" stroke-width="0.18">Conc.</text>
<line x1="639.10" y1="280.50" x2="655.00" y2="280.50" stroke="#4a7fc6" stroke-width="1.0"/>
<text x="672.10" y="281.90" font-size="6.3" text-anchor="end" textLength="3.22" lengthAdjust="spacingAndGlyphs" fill="#1e1e1e" stroke="#1e1e1e" stroke-width="0.18">2</text>
<line x1="640.00" y1="287.30" x2="655.00" y2="287.30" stroke="#bb4848" stroke-width="1.0"/>
<text x="672.10" y="288.90" font-size="6.3" text-anchor="end" textLength="3.22" lengthAdjust="spacingAndGlyphs" fill="#1e1e1e" stroke="#1e1e1e" stroke-width="0.18">5</text>
<line x1="639.10" y1="295.40" x2="655.00" y2="295.40" stroke="#55aa55" stroke-width="1.0" stroke-dasharray="9.7 5.2 0.9 10"/>
<text x="672.10" y="296.60" font-size="6.3" text-anchor="end" textLength="3.22" lengthAdjust="spacingAndGlyphs" fill="#1e1e1e" stroke="#1e1e1e" stroke-width="0.18">8</text>
<rect x="637.50" y="345.50" width="39.10" height="31.80" fill="#ffffff" stroke="#b0b0b0" stroke-width="1"/>
<text x="665.50" y="351.80" font-size="6.3" text-anchor="end" textLength="7.5" lengthAdjust="spacingAndGlyphs" fill="#1e1e1e" stroke="#1e1e1e" stroke-width="0.18">pH</text>
<line x1="639.10" y1="358.70" x2="655.00" y2="358.70" stroke="#4a7fc6" stroke-width="1.0"/>
<text x="665.50" y="360.00" font-size="6.3" text-anchor="end" textLength="3.22" lengthAdjust="spacingAndGlyphs" fill="#1e1e1e" stroke="#1e1e1e" stroke-width="0.18">4</text>
<line x1="640.00" y1="365.50" x2="655.00" y2="365.50" stroke="#bb4848" stroke-width="1.0"/>
<text x="665.50" y="367.00" font-size="6.3" text-anchor="end" textLength="3.22" lengthAdjust="spacingAndGlyphs" fill="#1e1e1e" stroke="#1e1e1e" stroke-width="0.18">7</text>
<line x1="639.10" y1="374.20" x2="655.00" y2="374.20" stroke="#55aa55" stroke-width="1.0" stroke-dasharray="9.7 5.2 0.9 10"/>
<text x="665.50" y="374.80" font-size="6.3" text-anchor="end" textLength="6.45" lengthAdjust="spacingAndGlyphs" fill="#1e1e1e" stroke="#1e1e1e" stroke-width="0.18">10</text>
<rect x="364.70" y="235.30" width="23.60" height="19.80" rx="3" ry="3" fill="#e8e6e8" stroke="#22b14c" stroke-width="3"/>
<text x="376.60" y="252.50" font-family="Liberation Serif, serif" font-weight="bold" font-size="19.6" text-anchor="middle" fill="#22b14c" stroke="#22b14c" stroke-width="0.15">D</text>
</svg>
</body></html>
